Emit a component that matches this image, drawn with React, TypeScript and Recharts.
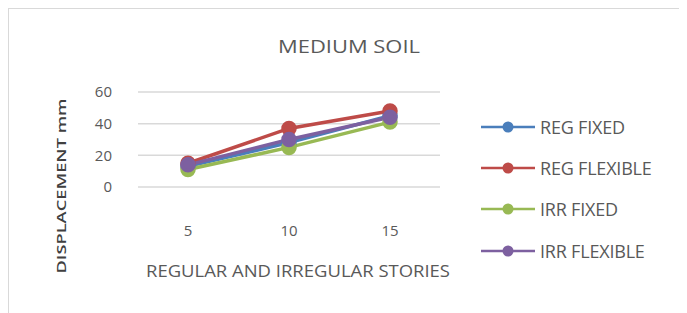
import React from 'react';
import { LineChart, Line, XAxis, YAxis, CartesianGrid, Legend } from 'recharts';

const stories = ['5', '10', '15'];
const regFixed = [13, 28, 45];
const regFlexible = [15, 37, 48];
const irrFixed = [11, 25, 41];
const irrFlexible = [14, 30, 44];
const yTicks = [0, 20, 40, 60];

const seriesNames = ['REG FIXED', 'REG FLEXIBLE', 'IRR FIXED', 'IRR FLEXIBLE'];
const seriesKeys = ['regFixed', 'regFlexible', 'irrFixed', 'irrFlexible'];
const seriesColors = ['#4a7ebb', '#be4b48', '#98b954', '#7d60a0'];

const data = stories.map((s, i) => ({
  story: s,
  regFixed: regFixed[i],
  regFlexible: regFlexible[i],
  irrFixed: irrFixed[i],
  irrFlexible: irrFlexible[i],
}));

const FONT = '"Open Sans", sans-serif';
const TEXT = '#595959';

const LegendContent = () => (
  <div style={{ fontFamily: FONT }}>
    {seriesNames.map((n, i) => (
      <div key={n} style={{ display: 'flex', alignItems: 'center', height: 41.3 }}>
        <svg width={54} height={14} style={{ marginRight: 5 }}>
          <line x1={0} y1={7} x2={54} y2={7} stroke={seriesColors[i]} strokeWidth={2.5} />
          <circle cx={27} cy={7} r={5.5} fill={seriesColors[i]} />
        </svg>
        <span style={{ fontSize: 18, color: TEXT, letterSpacing: -0.2, whiteSpace: 'nowrap' }}>{n}</span>
      </div>
    ))}
  </div>
);

export default function App() {
  return (
    <div style={{ width: 675, height: 310, border: '1px solid #d9d9d9', boxSizing: 'border-box', background: '#fff', position: 'relative' }}>
      <LineChart width={673} height={305} data={data} margin={{ top: 83, right: 54, bottom: 77, left: 0 }}>
        <text x={340} y={37} textAnchor="middle" dominantBaseline="central" fontFamily={FONT} fontSize={18} fill={TEXT}
          textLength={142} lengthAdjust="spacingAndGlyphs">MEDIUM SOIL</text>
        <text x={0} y={0} transform="translate(52,177) rotate(-90)" textAnchor="middle" dominantBaseline="central" fontFamily={FONT} fontSize={12} fontWeight={600} fill="#404040"
          textLength={175} lengthAdjust="spacingAndGlyphs">DISPLACEMENT mm</text>
        <text x={289} y={261} textAnchor="middle" dominantBaseline="central" fontFamily={FONT} fontSize={16.5} fill={TEXT}
          textLength={304} lengthAdjust="spacingAndGlyphs">REGULAR AND IRREGULAR STORIES</text>
        <CartesianGrid vertical={false} stroke="#d9d9d9" strokeWidth={1.5} />
        <XAxis dataKey="story" axisLine={false} tickLine={false} tickSize={0} tickMargin={38} height={50}
          padding={{ left: 50, right: 50 }}
          tick={{ fontFamily: FONT, fontSize: 15, fill: TEXT }} />
        <YAxis domain={[0, 60]} ticks={yTicks} axisLine={false} tickLine={false} tickSize={0} tickMargin={26} width={129}
          tick={{ fontFamily: FONT, fontSize: 15, fill: TEXT }} />
        <Legend layout="vertical" align="right" verticalAlign="top" content={<LegendContent />}
          wrapperStyle={{ left: 472, top: 97, width: 188 }} />
        {seriesKeys.map((k, i) => (
          <Line key={k} dataKey={k} name={seriesNames[i]} stroke={seriesColors[i]} strokeWidth={3.5}
            dot={{ r: 6, fill: seriesColors[i], stroke: seriesColors[i] }} isAnimationActive={false} />
        ))}
      </LineChart>
    </div>
  );
}
